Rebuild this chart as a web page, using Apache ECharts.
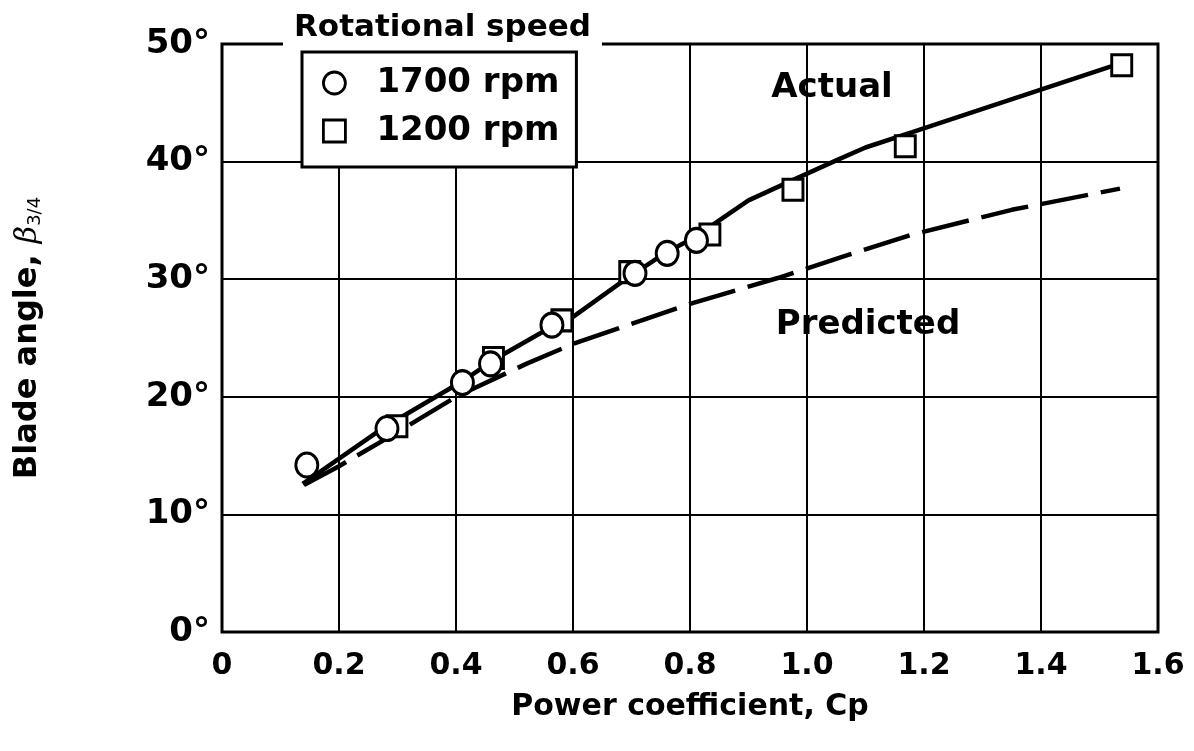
<!DOCTYPE html>
<html>
<head>
<meta charset="utf-8">
<script src="https://cdn.jsdelivr.net/npm/echarts@6.0.0/dist/echarts.min.js"></script>
<style>
html, body { margin: 0; padding: 0; background: #fff; }
#chart { width: 1194px; height: 751px; }
</style>
</head>
<body>
<div id="chart"></div>
<script>
// measured points, 1700 rpm (circles)
const rpm1700X = [0.145, 0.282, 0.411, 0.459, 0.564, 0.706, 0.761, 0.811];
const rpm1700Y = [14.2, 17.3, 21.2, 22.8, 26.1, 30.5, 32.2, 33.3];
// measured points, 1200 rpm (squares)
const rpm1200X = [0.299, 0.464, 0.581, 0.697, 0.834, 0.976, 1.168, 1.538];
const rpm1200Y = [17.5, 23.3, 26.5, 30.6, 33.8, 37.6, 41.3, 48.2];
// faired "Actual" curve
const actualX = [0.138, 0.28, 0.41, 0.47, 0.565, 0.60, 0.69, 0.76, 0.81, 0.85, 0.90, 0.97, 1.05, 1.10, 1.18, 1.52];
const actualY = [12.6, 17.5, 21.3, 23.3, 26.0, 26.8, 30.0, 32.3, 33.6, 35.0, 36.7, 38.3, 40.1, 41.2, 42.5, 48.1];
// "Predicted" curve (dashed)
const predX = [0.14, 0.20, 0.30, 0.40, 0.52, 0.60, 0.70, 0.80, 0.95, 1.06, 1.18, 1.35, 1.535];
const predY = [12.5, 14.1, 17.0, 20.0, 22.8, 24.5, 26.2, 27.9, 30.1, 31.9, 33.8, 35.9, 37.7];
// axis ticks
const xTicks = [0, 0.2, 0.4, 0.6, 0.8, 1.0, 1.2, 1.4, 1.6];
const yTicks = [0, 10, 20, 30, 40, 50];

const FONT = '"DejaVu Sans", "Liberation Sans", Arial, sans-serif';
const pairs = (xs, ys) => xs.map((x, i) => [x, ys[i]]);

const chart = echarts.init(document.getElementById('chart'));

const option = {
  backgroundColor: '#fff',
  animation: false,
  title: {
    text: 'Rotational speed',
    left: 283,
    top: 8,
    z: 3,
    padding: [4, 11, 10, 11],
    backgroundColor: '#fff',
    textStyle: { fontFamily: FONT, fontSize: 31, fontWeight: 'bold', color: '#000' }
  },
  legend: {
    orient: 'vertical',
    left: 302,
    top: 52,
    z: 4,
    padding: [14, 17, 19, 20],
    itemGap: 14,
    itemWidth: 22,
    itemHeight: 22,
    backgroundColor: '#fff',
    borderColor: '#000',
    borderWidth: 3,
    borderRadius: 0,
    textStyle: { fontFamily: FONT, fontSize: 34, fontWeight: 'bold', color: '#000', padding: [0, 0, 0, 26] },
    itemStyle: { color: '#fff', borderColor: '#000', borderWidth: 2.8 },
    data: [
      { name: '1700 rpm', icon: 'circle' },
      { name: '1200 rpm', icon: 'rect' }
    ]
  },
  grid: {
    left: 222,
    right: 36,
    top: 44,
    bottom: 119,
    show: true,
    borderColor: '#000',
    borderWidth: 3
  },
  xAxis: {
    type: 'value',
    min: xTicks[0],
    max: xTicks[xTicks.length - 1],
    interval: 0.2,
    name: 'Power coefficient, Cp',
    nameLocation: 'middle',
    nameGap: 60,
    nameTextStyle: { fontFamily: FONT, fontSize: 30, fontWeight: 'bold', color: '#000' },
    axisLine: { show: false },
    axisTick: { show: false },
    axisLabel: {
      margin: 19,
      fontFamily: FONT, fontSize: 30, fontWeight: 'bold', color: '#000',
      formatter: v => (v === 0 ? '0' : v.toFixed(1))
    },
    splitLine: { show: true, lineStyle: { color: '#000', width: 2 } }
  },
  yAxis: {
    type: 'value',
    min: yTicks[0],
    max: yTicks[yTicks.length - 1],
    interval: 10,
    name: '{a|Blade angle, }{b|β}{c|3/4}',
    nameLocation: 'middle',
    nameGap: 178,
    nameTextStyle: {
      fontFamily: FONT, fontSize: 32, fontWeight: 'bold', color: '#000',
      rich: {
        a: { fontFamily: FONT, fontSize: 32, fontWeight: 'bold', color: '#000' },
        b: { fontFamily: '"DejaVu Serif", serif', fontSize: 30, fontStyle: 'italic', fontWeight: 'normal', color: '#000' },
        c: { fontFamily: FONT, fontSize: 18, fontWeight: 'normal', color: '#000', verticalAlign: 'bottom' }
      }
    },
    axisLine: { show: false },
    axisTick: { show: false },
    axisLabel: {
      margin: 12,
      fontFamily: FONT, fontSize: 34, fontWeight: 'bold', color: '#000',
      formatter: '{value}°'
    },
    splitLine: { show: true, lineStyle: { color: '#000', width: 2 } }
  },
  graphic: [
    { type: 'text', x: 832, y: 88, z: 10,
      style: { text: 'Actual', fill: '#000', font: 'bold 34px ' + FONT, align: 'center', verticalAlign: 'middle' } },
    { type: 'text', x: 868, y: 325, z: 10,
      style: { text: 'Predicted', fill: '#000', font: 'bold 34px ' + FONT, align: 'center', verticalAlign: 'middle' } }
  ],
  series: [
    {
      name: 'Predicted',
      type: 'line',
      data: pairs(predX, predY),
      showSymbol: false,
      lineStyle: { color: '#000', width: 4.5, type: [48, 13], cap: 'butt' },
      z: 2
    },
    {
      name: 'Actual',
      type: 'line',
      data: pairs(actualX, actualY),
      showSymbol: false,
      lineStyle: { color: '#000', width: 4.5 },
      z: 3
    },
    {
      name: '1200 rpm',
      type: 'scatter',
      symbol: 'rect',
      symbolSize: [20, 21],
      data: pairs(rpm1200X, rpm1200Y),
      itemStyle: { color: '#fff', borderColor: '#000', borderWidth: 3, opacity: 1 },
      z: 4
    },
    {
      name: '1700 rpm',
      type: 'scatter',
      symbol: 'circle',
      symbolSize: [22, 24],
      data: pairs(rpm1700X, rpm1700Y),
      itemStyle: { color: '#fff', borderColor: '#000', borderWidth: 3, opacity: 1 },
      z: 5
    }
  ]
};

chart.setOption(option);
</script>
</body>
</html>
